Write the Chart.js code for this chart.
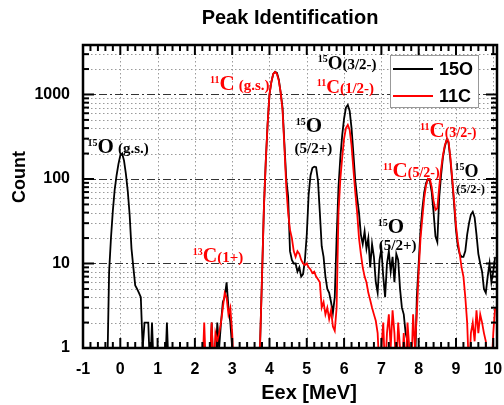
<!DOCTYPE html>
<html lang="en">
<head>
<meta charset="UTF-8">
<title>Peak Identification</title>
<style>
  body { margin: 0; background: #fff; }
  #myChart { display: block; }
</style>
</head>
<body>

<canvas id="myChart" width="504" height="405"></canvas>

<script src="https://cdn.jsdelivr.net/npm/chart.js"></script>
<script>
// histogram bins (MeV), 0.05 MeV wide, first bin at -0.5
const binStart = -0.5
const binWidth = 0.05

// 15O counts, one line per MeV
const o15Counts = [
  0, 0, 0, 0, 8, 20, 42, 75, 110, 150,
  190, 200, 165, 115, 72, 38, 15, 9, 5.5, 5, 4.5, 4, 1, 2, 2, 2, 0, 2, 0, 0,
  0, 0, 0, 0, 0, 2, 0, 0, 0, 0, 0, 0, 0, 0, 0, 0, 0, 0, 0, 0,
  0, 0, 0, 0, 0, 0, 0, 0, 0, 2, 0, 0, 2, 1, 2, 3.5, 4, 6, 3, 2,
  1, 0, 0, 0, 0, 0, 0, 0, 0, 0, 0, 0, 0, 0, 0, 1.2, 7, 45, 160, 450,
  1000, 1400, 1750, 1850, 1800, 1500, 1050, 700, 260, 100, 62, 14, 11, 10, 10, 8, 9, 7, 7.5, 11,
  22, 65, 110, 135, 140, 138, 95, 40, 16, 12, 7, 5, 4.5, 3.5, 2.6, 4, 20, 80, 180, 330,
  520, 700, 750, 640, 400, 200, 95, 60, 40, 22, 17, 24, 15, 20, 9, 17, 12, 6, 4.5, 11,
  15, 7, 4, 10, 14, 8, 12, 6, 13, 11, 5, 3, 2.5, 1.5, 1.2, 0, 1, 0, 0, 4,
  10, 25, 45, 70, 90, 100, 95, 70, 40, 21, 18, 60, 110, 180, 240, 290, 270, 170, 95, 50,
  25, 16, 13, 12, 12, 14, 22, 30, 38, 41, 35, 22, 13, 10, 8, 5, 4.5, 7, 10, 6,
  8, 12
]

// 11C counts
const c11Counts = [
  0, 0, 0, 0, 0, 0, 0, 0, 0, 0,
  0, 0, 0, 0, 0, 0, 0, 0, 0, 0, 0, 0, 0, 0, 0, 0, 0, 0, 0, 0,
  0, 0, 0, 0, 0, 0, 0, 0, 0, 0, 0, 0, 0, 0, 0, 0, 0, 0, 0, 0,
  0, 0, 0, 0, 0, 2, 0, 0, 0, 2, 0, 1.5, 1.2, 1.5, 2, 3, 4.5, 4, 2.5, 3,
  1.5, 0, 0, 0, 0, 0, 0, 0, 0, 0, 0, 0, 0, 0, 0, 1.2, 7, 45, 160, 450,
  1000, 1400, 1750, 1850, 1750, 1450, 1050, 650, 240, 80, 40, 25, 20, 14, 12, 14, 13, 11, 10, 9.6,
  10, 9, 8.5, 7.7, 8, 7, 6.5, 6, 3, 3.5, 2.5, 3, 2.2, 2.8, 1.8, 1.6, 3, 40, 100, 180,
  300, 400, 436, 380, 250, 130, 70, 40, 20, 13, 9, 7, 6, 4.5, 3.7, 3, 2.5, 2.1, 1.5, 0,
  1, 2, 0, 1.5, 2.5, 1, 2.8, 1.5, 0, 2, 1, 0, 1.5, 0, 2, 1, 0, 2.5, 1, 2.5,
  8, 20, 35, 60, 85, 100, 100, 80, 55, 43, 45, 80, 130, 190, 250, 290, 280, 180, 100, 55,
  28, 18, 13, 9, 7, 4, 2, 0, 1.5, 2, 1.2, 2.8, 1.5, 2.5, 2, 1.5, 1.2, 0, 1, 0,
  1.5, 3
]

const seriesNames = ['15O', '11C']
const xTicks = [-1, 0, 1, 2, 3, 4, 5, 6, 7, 8, 9, 10]
const yTicks = [1, 10, 100, 1000]
const xMin = -1, xMax = 10.1
const yMin = 1, yMax = 3850
// empty bins are drawn just under the log axis so the line runs off the bottom
const emptyBinLevel = 0.5

// peak names, placed at (MeV, count) of the symbol's baseline
const peakLabels = [
  { e: -0.61, n: 205, mass: '15', sym: 'O', state: '(g.s.)', color: 'black', symSize: 21, stSize: 15, gap: 4 },
  { e: 2.66, n: 1130, mass: '11', sym: 'C', state: '(g.s.)', color: 'red', symSize: 21, stSize: 15, gap: 4 },
  { e: 5.56, n: 2000, mass: '15', sym: 'O', state: '(3/2-)', color: 'black', symSize: 19, stSize: 15, gap: 0 },
  { e: 5.52, n: 1033, mass: '11', sym: 'C', state: '(1/2-)', color: 'red', symSize: 19, stSize: 15, gap: 0 },
  { e: 4.97, n: 363, mass: '15', sym: 'O', color: 'black', symSize: 21, line2: '(5/2+)', e2: 4.67, n2: 201, stSize: 15 },
  { e: 8.29, n: 311, mass: '11', sym: 'C', state: '(3/2-)', color: 'red', symSize: 21, stSize: 14, gap: 0 },
  { e: 7.30, n: 106, mass: '11', sym: 'C', state: '(5/2-)', color: 'red', symSize: 21, stSize: 14, gap: 0 },
  { e: 9.23, n: 106, mass: '15', sym: 'O', color: 'black', symSize: 18, line2: '(5/2-)', e2: 9.01, n2: 69, stSize: 12.5 },
  { e: 7.17, n: 23.2, mass: '15', sym: 'O', color: 'black', symSize: 21, line2: '(5/2+)', e2: 6.93, n2: 14.4, stSize: 15 },
  { e: 2.21, n: 10.5, mass: '13', sym: 'C', state: '(1+)', color: 'red', symSize: 20, stSize: 15, gap: 0 }
]

const eexBins = o15Counts.map((v, i) => +(binStart + i * binWidth).toFixed(2))

const sansFont = '"Liberation Sans", Arial, sans-serif'
const serifFont = '"Liberation Serif", "Times New Roman", serif'

function drawPeakLabel(ctx, x, y, lab) {
  const px = x.getPixelForValue(lab.e)
  const py = y.getPixelForValue(lab.n)
  ctx.fillStyle = lab.color
  ctx.textBaseline = 'alphabetic'
  ctx.font = 'bold 10px ' + serifFont
  ctx.textAlign = 'right'
  ctx.fillText(lab.mass, px, py - 7)
  ctx.textAlign = 'left'
  ctx.font = 'bold ' + lab.symSize + 'px ' + serifFont
  ctx.fillText(lab.sym, px, py)
  if (lab.state) {
    const sx = px + ctx.measureText(lab.sym).width + lab.gap
    ctx.font = 'bold ' + lab.stSize + 'px ' + serifFont
    ctx.fillText(lab.state, sx, py)
  }
  if (lab.line2) {
    ctx.font = 'bold ' + lab.stSize + 'px ' + serifFont
    ctx.fillText(lab.line2, x.getPixelForValue(lab.e2), y.getPixelForValue(lab.n2))
  }
}

function hline(ctx, x0, x1, yy) {
  ctx.beginPath(); ctx.moveTo(x0, yy); ctx.lineTo(x1, yy); ctx.stroke()
}
function vline(ctx, xx, y0, y1) {
  ctx.beginPath(); ctx.moveTo(xx, y0); ctx.lineTo(xx, y1); ctx.stroke()
}

// minor tick positions
const minorX = []
for (let v = xMin; v <= xMax + 1e-9; v += 0.2) minorX.push(+v.toFixed(1))
const minorY = []
yTicks.forEach(d => { for (let m = 2; m <= 9; m++) if (d * m < yMax) minorY.push(d * m) })

const framePlugin = {
  id: 'frame',
  beforeDatasetsDraw(chart) {
    const { ctx, chartArea: a, scales: { x, y } } = chart
    ctx.save()
    ctx.lineWidth = 1
    // dotted grid
    ctx.strokeStyle = '#9a9a9a'
    ctx.setLineDash([1.5, 2.5])
    xTicks.forEach(v => { const p = Math.round(x.getPixelForValue(v)) + 0.5; vline(ctx, p, a.top, a.bottom) })
    minorY.forEach(v => { const p = Math.round(y.getPixelForValue(v)) + 0.5; hline(ctx, a.left, a.right, p) })
    // dash-dot lines at the decades
    ctx.strokeStyle = '#333'
    ctx.setLineDash([8, 3, 2, 3])
    yTicks.slice(1).forEach(v => { const p = Math.round(y.getPixelForValue(v)) + 0.5; hline(ctx, a.left, a.right, p) })
    ctx.restore()
  },
  afterDatasetsDraw(chart) {
    const { ctx, chartArea: a, scales: { x, y } } = chart
    ctx.save()
    // inward ticks on all four sides
    ctx.strokeStyle = 'black'
    ctx.lineWidth = 2
    minorX.forEach(v => {
      const p = x.getPixelForValue(v)
      const len = Number.isInteger(v) ? 10 : 6
      vline(ctx, p, a.bottom, a.bottom - len)
      vline(ctx, p, a.top, a.top + len)
    })
    minorY.concat(yTicks).forEach(v => {
      const p = y.getPixelForValue(v)
      const len = yTicks.includes(v) ? 11 : 6
      hline(ctx, a.left, a.left + len, p)
      hline(ctx, a.right, a.right - len, p)
    })
    // frame
    ctx.lineWidth = 2.5
    ctx.strokeRect(a.left, a.top, a.right - a.left, a.bottom - a.top)

    // peak names
    peakLabels.forEach(lab => drawPeakLabel(ctx, x, y, lab))

    // legend box inside the plot
    const lx = a.left + 307, ly = a.top + 10
    ctx.fillStyle = 'white'
    ctx.fillRect(lx, ly, 88, 52)
    ctx.strokeStyle = '#999'
    ctx.lineWidth = 1
    ctx.strokeRect(lx + 0.5, ly + 0.5, 88, 52)
    chart.data.datasets.forEach((ds, i) => {
      const yy = ly + 14 + i * 27
      ctx.strokeStyle = ds.borderColor
      ctx.lineWidth = 2
      hline(ctx, lx + 3, lx + 43, yy)
      ctx.fillStyle = 'black'
      ctx.font = 'bold 18px ' + sansFont
      ctx.textAlign = 'left'
      ctx.textBaseline = 'middle'
      ctx.fillText(ds.label, lx + 49, yy + 1)
    })

    // axis titles
    ctx.fillStyle = 'black'
    ctx.textAlign = 'center'
    ctx.textBaseline = 'middle'
    ctx.font = 'bold 20px ' + sansFont
    ctx.fillText('Eex [MeV]', 309, 393)
    ctx.translate(20, 177)
    ctx.rotate(-Math.PI / 2)
    ctx.font = 'bold 18px ' + sansFont
    ctx.fillText('Count', 0, 0)
    ctx.restore()
  }
}

const ctx = document.getElementById('myChart')

const Grafico = new Chart(ctx, {
  type: 'line',
  data: {
    datasets: [
      {
        label: seriesNames[0],
        data: eexBins.map((e, i) => ({ x: e, y: Math.max(o15Counts[i], emptyBinLevel) })),
        borderColor: 'black',
        order: 1
      },
      {
        label: seriesNames[1],
        data: eexBins.map((e, i) => ({ x: e, y: Math.max(c11Counts[i], emptyBinLevel) })),
        borderColor: 'red',
        order: 0
      }
    ]
  },
  options: {
    responsive: false,
    animation: false,
    devicePixelRatio: 1,
    layout: { padding: { left: 0, right: 7, top: 0, bottom: 0 } },
    elements: {
      point: { radius: 0 },
      line: { borderWidth: 1.8, tension: 0 }
    },
    plugins: {
      legend: { display: false },
      tooltip: { enabled: false },
      title: {
        display: true,
        text: 'Peak Identification',
        fullSize: false,
        color: 'black',
        font: { family: sansFont, size: 20, weight: 'bold' },
        padding: { top: 6, bottom: 15 }
      }
    },
    scales: {
      x: {
        type: 'linear',
        min: xMin,
        max: xMax,
        grid: { display: false, drawTicks: false },
        border: { display: false },
        ticks: {
          color: 'black',
          font: { family: sansFont, size: 16, weight: 'bold' },
          padding: 12,
          maxRotation: 0
        },
        afterBuildTicks: s => { s.ticks = xTicks.map(v => ({ value: v })) },
        afterFit: s => { s.height = 57; s.paddingLeft = 0; s.paddingRight = 0 }
      },
      y: {
        type: 'logarithmic',
        min: yMin,
        max: yMax,
        grid: { display: false, drawTicks: false },
        border: { display: false },
        ticks: {
          color: 'black',
          font: { family: sansFont, size: 16, weight: 'bold' },
          padding: 13,
          callback: v => String(v)
        },
        afterBuildTicks: s => { s.ticks = yTicks.map(v => ({ value: v })) },
        afterFit: s => { s.width = 83; s.paddingTop = 0; s.paddingBottom = 0 }
      }
    }
  },
  plugins: [framePlugin]
})
</script>
</body>
</html>
